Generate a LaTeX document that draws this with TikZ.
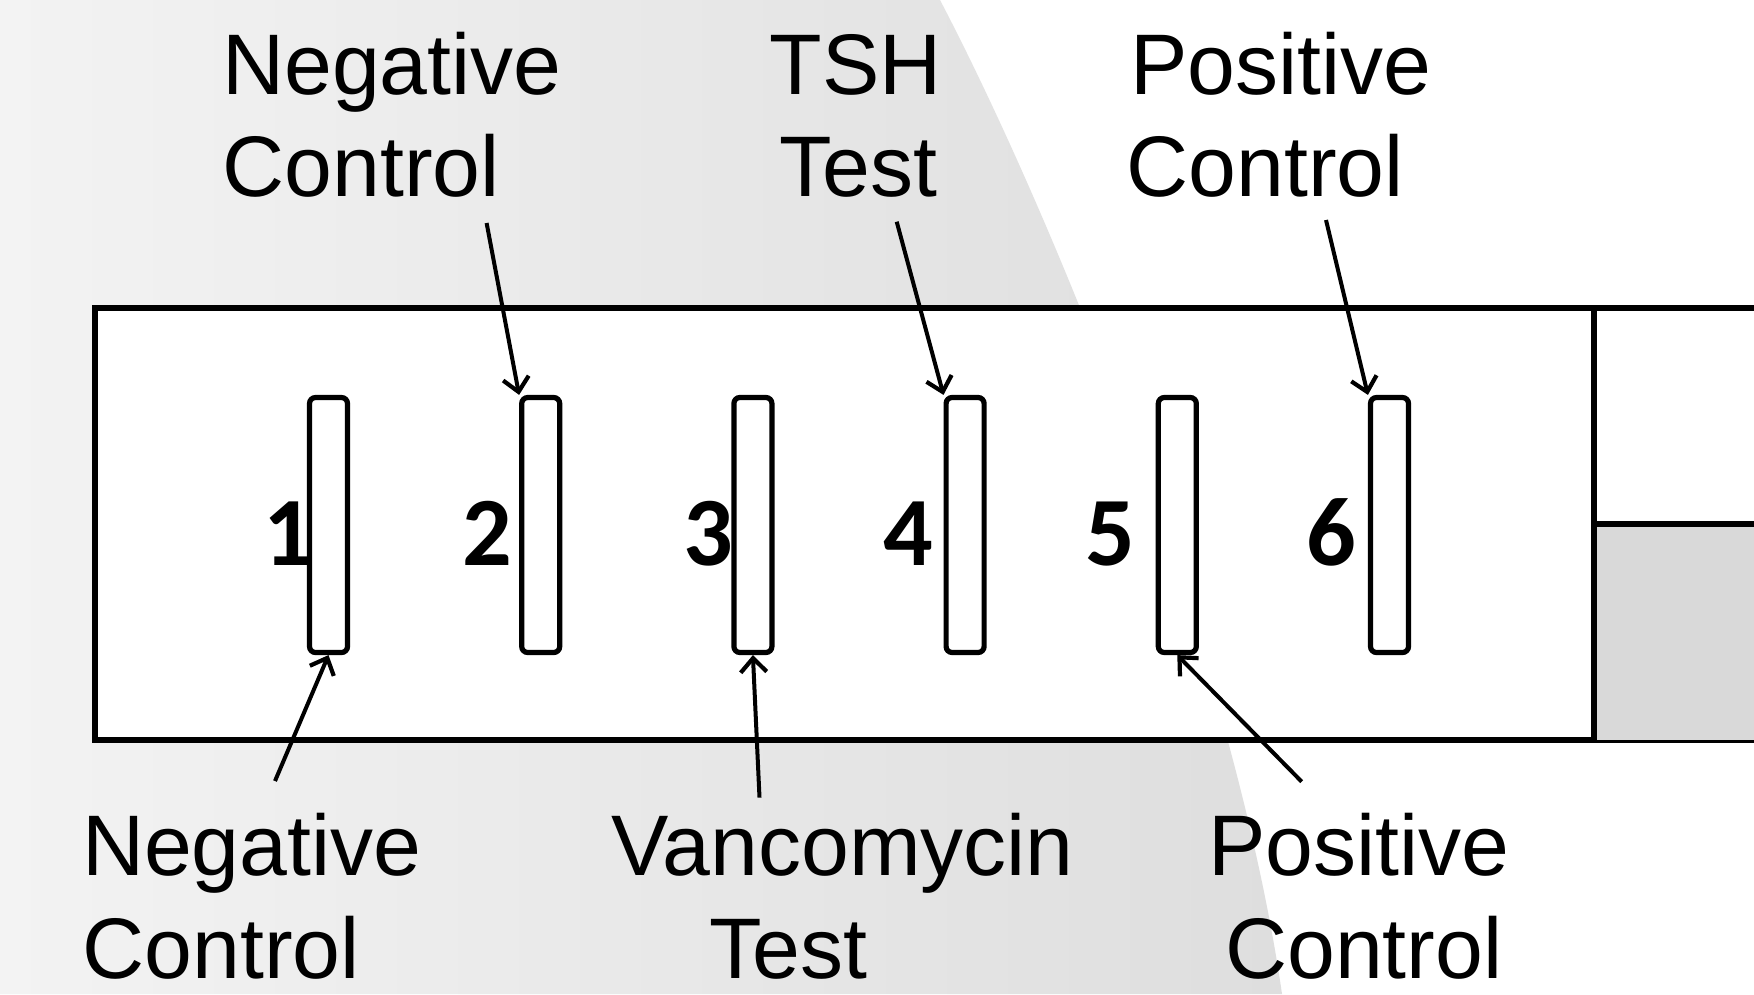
\documentclass[tikz,border=0pt]{standalone}
\usepackage{fontspec}
\setmainfont{Liberation Sans}
\newfontfamily\digitfont{Carlito}
\usetikzlibrary{arrows.meta}
\definecolor{bgLight}{RGB}{243,243,243}
\definecolor{bgDark}{RGB}{222,222,222}
\definecolor{padGray}{RGB}{217,217,217}
\tikzset{
  stripbox/.style={draw, line width=5.2pt, fill=white, rounded corners=6pt,
    minimum width=38pt, minimum height=255pt, inner sep=0pt},
  lbl/.style={font=\fontsize{86}{103}\selectfont, inner sep=0pt, anchor=base west},
  num/.style={font=\digitfont\bfseries\fontsize{98}{100}\selectfont, inner sep=0pt, anchor=base},
  arr/.style={-{Straight Barb[length=14pt,width=26pt,line width=4.2pt]}, line width=4pt},
  frame/.style={line width=5.2pt, line cap=rect}
}
\begin{document}
\begin{tikzpicture}[x=1pt,y=-1pt]
\useasboundingbox (0,0) rectangle (1754,994);
\clip (0,0) rectangle (1754,994);
% background
\fill[white] (0,0) rectangle (1754,994);
\shade[left color=bgLight, right color=bgDark]
  (0,0) -- (940,0) .. controls (1050,210) and (1232,650) .. (1282,994) -- (0,994) -- cycle;
% main card
\draw[frame, fill=white] (95,308) rectangle (1770,740);
\fill[padGray] (1594,524) rectangle (1770,740);
\draw[frame] (1594,308) -- (1594,740);
\draw[frame] (1594,524) -- (1770,524);
% digits
\node[num] (n1) at (288,565) {1};
\node[num] (n2) at (487,565) {2};
\node[num] (n3) at (708,565) {3};
\node[num] (n4) at (908,565) {4};
\node[num] (n5) at (1110,565) {5};
\node[num] (n6) at (1331.5,565) {6};
% strips
\foreach \i in {1,...,6} {
  \node[stripbox] (s\i) at ({328.5+212.2*(\i-1)},525) {};
}
% labels
\node[lbl] (tneg1) at (222,94) {Negative};
\node[lbl] (tneg2) at (222.5,196.7) {Control};
\node[lbl] (ttsh1) at (769.7,94) {TSH};
\node[lbl] (ttsh2) at (779.7,196.7) {Test};
\node[lbl] (tpos1) at (1129.9,94) {Positive};
\node[lbl] (tpos2) at (1126.5,196.7) {Control};
\node[lbl] (bneg1) at (81.8,875) {Negative};
\node[lbl] (bneg2) at (82.5,978.3) {Control};
\node[lbl] (bvan1) at (611.5,875) {Vancomycin};
\node[lbl] (bvan2) at (709.7,978.3) {Test};
\node[lbl] (bpos1) at (1208.2,875) {Positive};
\node[lbl] (bpos2) at (1225,978.3) {Control};
% arrow start points
\coordinate (a2) at (486.6,223);
\coordinate (a4) at (896.7,221.7);
\coordinate (a6) at (1326,220);
\coordinate (a1) at (275,781);
\coordinate (a3) at (759.5,797.6);
\coordinate (a5) at (1301.7,781.7);
\draw[arr] (a2) -- (s2.north west);
\draw[arr] (a4) -- (s4.north west);
\draw[arr] (a6) -- (s6.north west);
\draw[arr] (a1) -- (s1.south);
\draw[arr] (a3) -- (s3.south);
\draw[arr] (a5) -- (s5.south);
\end{tikzpicture}
\end{document}
